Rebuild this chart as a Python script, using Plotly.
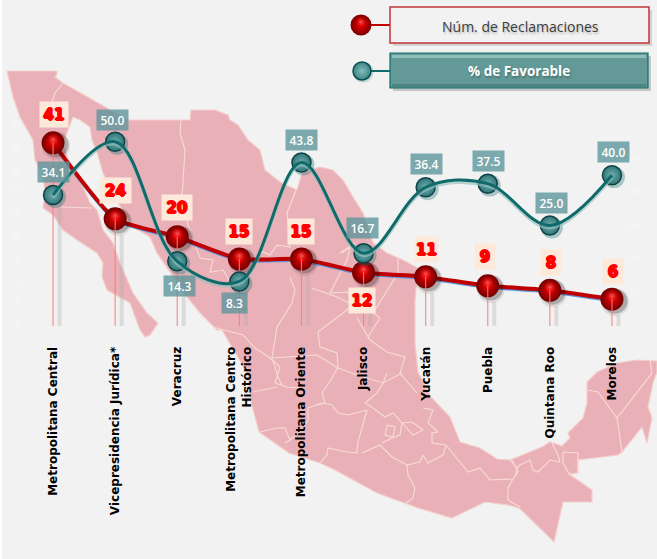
import plotly.graph_objects as go

# ---------- data ----------
categories = ["Metropolitana Central", "Vicepresidencia Jurídica*", "Veracruz",
              "Metropolitana Centro<br>Histórico", "Metropolitana Oriente", "Jalisco",
              "Yucatán", "Puebla", "Quintana Roo", "Morelos"]
reclamaciones = [41, 24, 20, 15, 15, 12, 11, 9, 8, 6]
favorable = [34.1, 50.0, 14.3, 8.3, 43.8, 16.7, 36.4, 37.5, 25.0, 40.0]
left_ticks = [0, 5, 10, 15, 20, 25, 30, 35, 40, 45]
right_ticks = [-5, 5, 15, 25, 35, 45, 55]

# ---------- page geometry (px) ----------
W, H = 657, 559
PLOT_L, PLOT_R, PLOT_T, PLOT_B = 22, 643, 125, 326
STEP = (PLOT_R - PLOT_L) / 10
RED_PER = (PLOT_B - PLOT_T) / 45
TEAL_PER = (PLOT_B - PLOT_T) / 60

idx = list(range(len(categories)))
def dx(px): return px / STEP
def dr(px): return px / RED_PER
def dt(px): return px / TEAL_PER

# ---------- decorative map, traced in page pixels ----------
MAP_OUTLINE = [(7,71),(57,71),(57,74),(55,77),(63,83),(110,110),(128,120),(190,120),(191,110),(215,110),
 (228,115),(230,120),(238,125),(248,140),(260,150),(265,170),(280,182),(297,190),(302,173),(310,170),
 (320,167),(333,170),(343,180),(353,197),(363,213),(373,243),(387,253),(403,260),(418,268),(415,300),
 (415,343),(418,372),(431,397),(450,417),(460,442),(480,448),(497,459),(510,460),(523,455),(542,447),
 (550,442),(562,446),(570,438),(568,433),(583,418),(587,403),(587,382),(597,372),(617,363),(637,360),
 (657,361),(657,372),(653,383),(648,407),(652,418),(647,443),(642,427),(633,438),(622,452),(618,455),
 (578,460),(578,473),(569,474),(592,490),(592,502),(563,502),(554,542),(544,532),(519,508),(508,505),
 (485,502),(452,518),(418,508),(377,493),(335,470),(320,463),(289,453),(259,432),(251,402),(247,373),
 (238,357),(222,330),(217,330),(200,313),(187,297),(167,267),(157,253),(150,237),(133,227),(113,195),
 (103,173),(97,152),(92,140),(90,127),(80,120),(73,117),(63,143),(68,160),(80,180),(90,203),(97,210),
 (103,230),(113,243),(120,263),(133,293),(147,313),(158,323),(150,335),(145,337),(140,330),(130,303),
 (107,290),(102,277),(103,263),(97,253),(77,240),(63,230),(53,215),(43,208),(45,190),(42,173),(35,160),
 (33,140),(20,117),(13,97),(7,71)]
MAP_LINES = [
 [(63,83),(55,93),(52,102)], [(60,207),(92,208)],
 [(181,120),(180,133),(185,150),(183,180),(182,197),(188,225),(197,250),(200,258),(213,260),(210,272),(223,270),(232,285)],
 [(296,190),(287,213),(290,247),(277,245),(270,255),(263,252),(252,260)],
 [(213,327),(243,335),(255,348),(270,358),(280,367),(275,383),(287,387),(300,388)],
 [(290,277),(295,290),(292,303),(277,327),(272,358),(278,377),(282,385)],
 [(312,288),(337,297),(353,305),(343,313),(318,332),(320,347),(337,353),(338,367),(332,378),(322,393),(325,403),(317,405)],
 [(357,318),(370,340),(387,352),(405,357),(400,373),(417,393)],
 [(272,358),(317,355),(338,368),(357,375),(383,383),(402,373)],
 [(387,373),(383,383),(377,393),(365,403),(373,408)],
 [(253,392),(277,387)],
 [(260,432),(277,428),(285,428),(290,440),(285,443)],
 [(290,440),(302,430),(308,420),(308,408),(322,403),(332,405),(338,413),(348,415),(367,410),(358,442),(357,453),(347,452),(328,448),(327,455),(320,463)],
 [(362,453),(380,445),(392,457),(407,465),(408,475),(415,488),(413,498),(405,504)],
 [(407,465),(420,462),(423,455),(428,463),(443,455),(446,445),(460,462),(468,472),(480,468),(490,480),(513,479),(518,472),(512,460)],
 [(513,479),(508,488),(508,500),(520,507)],
 [(446,445),(432,443),(432,433),(438,432),(428,423),(433,410),(423,408)],
 [(373,408),(385,417),(393,413),(402,423),(400,435),(392,438),(382,443)],
 [(387,425),(385,435),(393,437),(395,427),(387,425)],
 [(402,423),(412,422),(423,430),(413,435),(402,423)],
 [(587,390),(598,392),(617,418),(652,373),(650,360)], [(617,418),(622,452)],
 [(510,460),(517,468),(515,477)],
 [(517,468),(520,465),(530,460),(533,470),(538,472),(550,460),(560,462),(558,455),(552,443)],
 [(563,452),(578,453),(578,473),(570,475),(563,463),(563,452)],
 [(342,253),(350,247),(347,260),(330,293),(347,292),(380,318),(368,337)],
 [(398,258),(398,273),(375,310)],
 [(340,253),(355,243)],
]

fig = go.Figure()
PX = dict(xaxis="x", yaxis="y", hoverinfo="skip", showlegend=False)
DATA = dict(xaxis="x2", yaxis="y2", hoverinfo="skip", showlegend=False)
DATA3 = dict(xaxis="x2", yaxis="y3", hoverinfo="skip", showlegend=False)

fig.add_trace(go.Scatter(x=[p[0] for p in MAP_OUTLINE], y=[p[1] for p in MAP_OUTLINE], mode="lines",
                         fill="toself", fillcolor="#eab0b8", line=dict(color="#f3cfc9", width=1.2), **PX))
sx, sy = [], []
for ln in MAP_LINES:
    sx += [p[0] for p in ln] + [None]
    sy += [p[1] for p in ln] + [None]
fig.add_trace(go.Scatter(x=sx, y=sy, mode="lines", line=dict(color="#f6dcd4", width=1.1), **PX))

# legend swatches
LEG_RED, LEG_TEAL = (361, 25), (362, 71)
for (lx, ly), kind in ((LEG_RED, "r"), (LEG_TEAL, "t")):
    if kind == "r":
        fig.add_trace(go.Scatter(x=[lx], y=[ly], mode="markers", marker=dict(size=21, color="#7c0000",
            gradient=dict(type="radial", color="#ee0000"), line=dict(width=0)), **PX))
        fig.add_trace(go.Scatter(x=[lx], y=[ly - 3], mode="markers", marker=dict(size=11, color="rgba(238,0,0,0)",
            gradient=dict(type="radial", color="#ff5a5a"), line=dict(width=0)), **PX))
    else:
        fig.add_trace(go.Scatter(x=[lx + 1], y=[ly + 1], mode="markers", marker=dict(size=21, color="rgba(15,107,107,.22)", line=dict(width=0)), **PX))
        fig.add_trace(go.Scatter(x=[lx], y=[ly], mode="markers", marker=dict(size=18, color="#3f8484",
            gradient=dict(type="radial", color="#82bcbc"), line=dict(width=1.5, color="#0c4f50")), **PX))

# ---------- red series ----------
gx, gr = [], []
for i, v in zip(idx, reclamaciones):
    gx += [i + dx(6.5), i + dx(6.5), None]
    gr += [max(v - dr(16), 0), 0, None]
fig.add_trace(go.Scatter(x=gx, y=gr, mode="lines", line=dict(color="rgba(170,170,170,.32)", width=4), **DATA))
fig.add_trace(go.Scatter(x=idx, y=[v - dr(2.2) for v in reclamaciones], mode="lines",
                         line=dict(color="#5b95dc", width=2, shape="spline", smoothing=0.5), **DATA))
fig.add_trace(go.Scatter(x=idx, y=reclamaciones, mode="lines",
                         line=dict(color="#c00000", width=4, shape="spline", smoothing=0.5), **DATA))
sh_x = [i + dx(3) for i in idx]
fig.add_trace(go.Scatter(x=sh_x, y=[v - dr(3) for v in reclamaciones], mode="markers",
                         marker=dict(size=28, color="rgba(0,0,0,.09)", line=dict(width=0)), **DATA))
fig.add_trace(go.Scatter(x=sh_x, y=[v - dr(2) for v in reclamaciones], mode="markers",
                         marker=dict(size=25, color="rgba(0,0,0,.22)", line=dict(width=0)), **DATA))
fig.add_trace(go.Scatter(x=idx, y=reclamaciones, mode="markers",
                         marker=dict(size=23, color="#700000", gradient=dict(type="radial", color="#ee0000"),
                                     line=dict(width=0)), **DATA))
fig.add_trace(go.Scatter(x=idx, y=[v + dr(3) for v in reclamaciones], mode="markers",
                         marker=dict(size=13, color="rgba(238,0,0,0)", gradient=dict(type="radial", color="#ff5a5a"),
                                     line=dict(width=0)), **DATA))

# ---------- teal series ----------
fig.add_trace(go.Scatter(x=[i + dx(2) for i in idx], y=[v - dt(2) for v in favorable], mode="markers",
                         marker=dict(size=22, color="rgba(15,107,107,.32)", line=dict(width=0)), **DATA3))
fig.add_trace(go.Scatter(x=idx, y=favorable, mode="markers",
                         marker=dict(size=19, color="#2f7477", gradient=dict(type="radial", color="#6fb0b0"),
                                     line=dict(width=1.5, color="#0d4346")), **DATA3))
fig.add_trace(go.Scatter(x=idx, y=[v - dt(2.5) for v in favorable], mode="lines",
                         line=dict(color="rgba(150,190,190,.65)", width=3, shape="spline", smoothing=1), **DATA3))
fig.add_trace(go.Scatter(x=idx, y=favorable, mode="lines",
                         line=dict(color="#0f6b6b", width=3, shape="spline", smoothing=1), **DATA3))

# thin pink drop lines, over everything
px_, pr = [], []
for i, v in zip(idx, reclamaciones):
    px_ += [i, i, None]
    pr += [v, 0, None]
fig.add_trace(go.Scatter(x=px_, y=pr, mode="lines", line=dict(color="rgba(248,125,125,.85)", width=1.2), **DATA))

# ---------- value labels ----------
RED_OFFSET = [(1, 28.5), (0.5, 28), (0, 29), (0, 27.5), (0, 27.5), (-2, -28.5), (0.5, 27.5), (-3, 29.5), (1, 27.5), (1, 27.5)]
RED_SIZE = [(28, 25), (31, 25), (30, 25), (26, 25), (26, 25), (26, 25), (23, 25), (20, 25), (20, 25), (20, 25)]
TEAL_OFFSET = [(0.5, 23), (-2.5, 22), (2.5, -25), (-5, -22), (0.5, 23), (-1.5, 25), (0.5, 23), (0.5, 23), (1.5, 23), (1.5, 23)]
for i, v, (ox, oy), (bw, bh) in zip(idx, reclamaciones, RED_OFFSET, RED_SIZE):
    fig.add_annotation(xref="x2", yref="y2", x=i, y=v, xshift=ox, yshift=oy, text=str(v), showarrow=False,
                       width=bw, height=bh, bgcolor="#fde9d9", borderpad=0,
                       font=dict(family="DejaVu Sans", size=15, color="#ff0000", weight=700,
                                 shadow="1px 0 0 #ff0000, -1px 0 0 #ff0000, 0 1px 0 #ff0000, 0 -0.5px 0 #ff0000"))
for i, v, (ox, oy) in zip(idx, favorable, TEAL_OFFSET):
    w = 25 if v < 10 else 31
    fig.add_annotation(xref="x2", yref="y3", x=i, y=v, xshift=ox, yshift=oy, text=f"{v:.1f}", showarrow=False,
                       width=w, height=20, bgcolor="rgba(92,150,155,.8)", borderpad=0,
                       font=dict(family="Open Sans", size=12, color="#ffffff", weight=600))

# ---------- legend boxes, background ----------
def rect(x0, y0, x1, y1, fill, line=None, lw=0):
    return dict(type="rect", xref="x", yref="y", x0=x0, y0=y0, x1=x1, y1=y1, fillcolor=fill,
                line=dict(color=line or "rgba(0,0,0,0)", width=lw), layer="below")

def seg(x0, x1, y, col):
    return dict(type="line", xref="x", yref="y", x0=x0, x1=x1, y0=y, y1=y, line=dict(color=col, width=2), layer="below")

shapes = [
    rect(2, 0, W, H, "#f2f2f2"),
    seg(370, 390, 25, "#c00000"),
    seg(370, 390, 71, "#0f6b6b"),
    rect(393, 10, 652, 46, "rgba(0,0,0,.13)"),
    rect(390, 7, 649, 43, "#f2f2f2", "#c0353a", 1.5),
    rect(393, 56, 651, 91, "rgba(0,0,0,.18)"),
    rect(390, 53, 648, 88, "#639a98", "#0f6b6b", 1.2),
    rect(392, 55, 646, 58, "#92bfba"),
    rect(392, 84, 646, 87, "#4d8583"),
]
fig.add_annotation(xref="x", yref="y", x=520, y=26, text="Núm. de Reclamaciones", showarrow=False,
                   font=dict(family="Open Sans", size=14, color="#3c3c3c", shadow="1px 2px 2px rgba(0,0,0,.25)"))
fig.add_annotation(xref="x", yref="y", x=519, y=71, text="% de Favorable", showarrow=False,
                   font=dict(family="Open Sans", size=13.5, color="#ffffff", weight=700, shadow="1px 2px 2px rgba(0,0,0,.25)"))

fig.update_layout(
    width=W, height=H, autosize=False, margin=dict(l=0, r=0, t=0, b=0, pad=0, autoexpand=False),
    paper_bgcolor="#ffffff", plot_bgcolor="rgba(0,0,0,0)", showlegend=False, shapes=shapes,
    xaxis=dict(domain=[0, 1], range=[0, W], visible=False, fixedrange=True),
    yaxis=dict(domain=[0, 1], range=[H, 0], visible=False, fixedrange=True),
    xaxis2=dict(domain=[PLOT_L / W, PLOT_R / W], range=[-0.5, 9.5], anchor="y2", tickmode="array",
                tickvals=idx, ticktext=categories, tickangle=-90, showgrid=False, zeroline=False, showline=False,
                ticks="outside", ticklen=15, tickcolor="rgba(0,0,0,0)",
                tickfont=dict(family="DejaVu Sans", size=12, color="#000000", weight=700)),
    yaxis2=dict(domain=[1 - PLOT_B / H, 1 - PLOT_T / H], range=[0, 45], anchor="x2", tickmode="array",
                tickvals=left_ticks, showgrid=False, zeroline=False, showline=False,
                tickfont=dict(family="Open Sans", size=9, color="#f9f9f9")),
    yaxis3=dict(overlaying="y2", side="right", anchor="x2", range=[-5, 55], tickmode="array",
                tickvals=right_ticks, ticktext=[f"{t:.1f}" for t in right_ticks], showgrid=False, zeroline=False,
                showline=False, ticklabelposition="inside",
                tickfont=dict(family="Open Sans", size=7, color="#f9f9f9")),
)
fig.write_html("out.html", config=dict(displayModeBar=False),
               post_script="document.body.style.margin='0';document.body.style.overflow='hidden';")
